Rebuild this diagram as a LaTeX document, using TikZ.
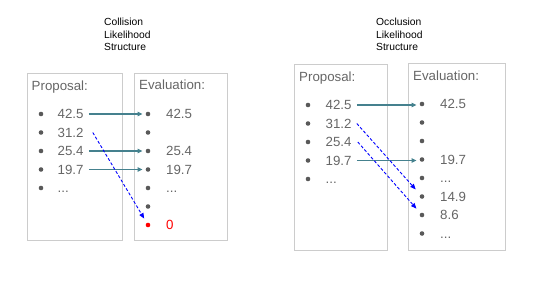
\documentclass[tikz,border=0pt]{standalone}
\usepackage{fontspec}
\setmainfont{Liberation Sans}
\usepackage{xcolor}
\usepackage{tikz}
\usetikzlibrary{arrows.meta, positioning, calc}
\definecolor{LSBorder}{RGB}{204, 204, 204}
\definecolor{LSText}{RGB}{102, 102, 102}
\definecolor{LSDot}{RGB}{89, 89, 89}
\definecolor{LSKeep}{RGB}{69, 129, 142}
\definecolor{LSDrop}{RGB}{0, 0, 255}
\definecolor{LSLost}{RGB}{255, 0, 0}

\tikzset{
  panelbox/.style={draw=LSBorder, line width=0.8pt, anchor=north west, inner sep=0},
  titletext/.style={anchor=base west, inner sep=0, align=left,
    font=\fontsize{10.3}{12.5}\selectfont},
  headtext/.style={anchor=west, inner sep=0, text=LSText, text height=9.5pt, text depth=2.8pt,
    font=\fontsize{13.3}{15}\selectfont},
  itemdot/.style={circle, fill=LSDot, inner sep=0, minimum size=4.6pt},
  itemval/.style={anchor=west, inner sep=0, text=LSText, text height=9.5pt, text depth=0pt,
    font=\fontsize{13.3}{15}\selectfont},
  keeparrow/.style={draw=LSKeep, line width=1.1pt, -{Triangle[length=5pt, width=4.5pt]},
    shorten <=5pt, shorten >=3pt},
  droparrow/.style={draw=LSDrop, line width=0.9pt, dash pattern=on 3pt off 2pt,
    -{Triangle[length=5.5pt, width=4.5pt]}}
}

\begin{document}
\begin{tikzpicture}[x=1pt, y=-1pt]
  \useasboundingbox (0,0) rectangle (535,301);

  % collision side
  \node[titletext] (ctitle) at (104,50.7) {Collision\\Likelihood\\Structure};
  \node[panelbox, minimum width=95pt, minimum height=167pt] (cprop) at (26.5,73) {};
  \node[panelbox, minimum width=93pt, minimum height=167pt] (ceval) at (134,73) {};
  \node[headtext] (cprophead) at (31.5,87) {Proposal:};
  \node[headtext] (cevalhead) at (139,86) {Evaluation:};

  \node[itemdot] (cp1) at (41,114) {};
  \node[itemdot] (cp2) at (41,132.5) {};
  \node[itemdot] (cp3) at (41,151) {};
  \node[itemdot] (cp4) at (41,169.5) {};
  \node[itemdot] (cp5) at (41,188) {};
  \node[itemval] (cv1) at (57.5,114) {42.5};
  \node[itemval] (cv2) at (57.5,132.5) {31.2};
  \node[itemval] (cv3) at (57.5,151) {25.4};
  \node[itemval] (cv4) at (57.5,169.5) {19.7};
  \node[itemval] (cv5) at (57.5,188) {...};

  \node[itemdot] (ce1) at (148,114) {};
  \node[itemdot] (ce2) at (148,132.5) {};
  \node[itemdot] (ce3) at (148,151) {};
  \node[itemdot] (ce4) at (148,169.5) {};
  \node[itemdot] (ce5) at (148,188) {};
  \node[itemdot] (ce6) at (148,206.5) {};
  \node[itemdot, fill=LSLost] (ce7) at (148,225) {};
  \node[itemval] (cw1) at (166,114) {42.5};
  \node[itemval] (cw3) at (166,151) {25.4};
  \node[itemval] (cw4) at (166,169.5) {19.7};
  \node[itemval] (cw5) at (166,188) {...};
  \node[itemval, text=LSLost] (cw7) at (166,225) {0};

  \draw[keeparrow] (cv1.east) -- (cv1.east -| ce1.west);
  \draw[keeparrow] (cv3.east) -- (cv3.east -| ce3.west);
  \draw[keeparrow] (cv4.east) -- (cv4.east -| ce4.west);
  \draw[droparrow, shorten >=5pt] ([xshift=9pt]cv2.east) -- (ce7);

  % occlusion side
  \node[titletext] (otitle) at (376,50.7) {Occlusion\\Likelihood\\Structure};
  \node[panelbox, minimum width=93pt, minimum height=186pt] (oprop) at (294,64) {};
  \node[panelbox, minimum width=97pt, minimum height=187pt] (oeval) at (408,63) {};
  \node[headtext] (oprophead) at (299,78) {Proposal:};
  \node[headtext] (oevalhead) at (413,77) {Evaluation:};

  \node[itemdot] (op1) at (308,105) {};
  \node[itemdot] (op2) at (308,123.5) {};
  \node[itemdot] (op3) at (308,142) {};
  \node[itemdot] (op4) at (308,160.5) {};
  \node[itemdot] (op5) at (308,179) {};
  \node[itemval] (ov1) at (325.5,105) {42.5};
  \node[itemval] (ov2) at (325.5,123.5) {31.2};
  \node[itemval] (ov3) at (325.5,142) {25.4};
  \node[itemval] (ov4) at (325.5,160.5) {19.7};
  \node[itemval] (ov5) at (325.5,179) {...};

  \node[itemdot] (oe1) at (422,104) {};
  \node[itemdot] (oe2) at (422,122.5) {};
  \node[itemdot] (oe3) at (422,141) {};
  \node[itemdot] (oe4) at (422,159.5) {};
  \node[itemdot] (oe5) at (422,178) {};
  \node[itemdot] (oe6) at (422,196.5) {};
  \node[itemdot] (oe7) at (422,215) {};
  \node[itemdot] (oe8) at (422,233.5) {};
  \node[itemval] (ow1) at (440,104) {42.5};
  \node[itemval] (ow4) at (440,159.5) {19.7};
  \node[itemval] (ow5) at (440,178) {...};
  \node[itemval] (ow6) at (440,196.5) {14.9};
  \node[itemval] (ow7) at (440,215) {8.6};
  \node[itemval] (ow8) at (440,233.5) {...};

  \draw[keeparrow] (ov1.east) -- (ov1.east -| oe1.west);
  \draw[keeparrow] (ov4.east) -- (ov4.east -| oe4.west);
  \draw[droparrow, shorten >=7pt] ([xshift=5pt]ov2.east) -- (oe6);
  \draw[droparrow, shorten >=6pt] ([xshift=6pt]ov3.east) -- (oe7);
\end{tikzpicture}
\end{document}
